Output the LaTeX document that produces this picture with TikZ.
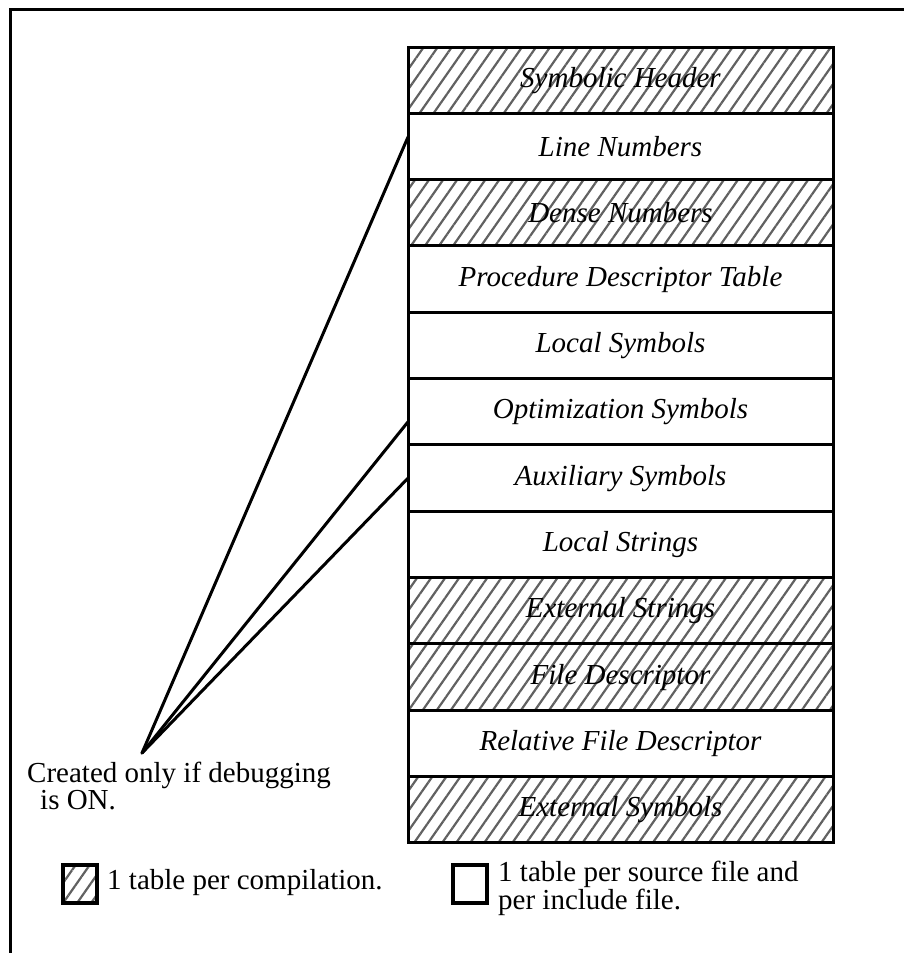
\documentclass[tikz,border=0pt]{standalone}
\usepackage{fontspec}
\setmainfont{Liberation Serif}
\usetikzlibrary{patterns.meta}
\begin{document}
\begin{tikzpicture}[x=1pt,y=-1pt,
  tablerow/.style={draw, line width=3pt, minimum width=425pt, minimum height=66.33pt,
    anchor=north west, inner sep=0pt, outer sep=0pt, font=\fontsize{29}{31}\selectfont\itshape},
  shaded/.style={pattern={Lines[angle=55,distance=11.5pt,line width=2.2pt]}, pattern color=black!62},
  keybox/.style={draw, line width=3.5pt, minimum width=34pt, minimum height=38pt, inner sep=0pt},
  label/.style={font=\fontsize{29}{27}\selectfont, inner sep=0pt},
  connector/.style={line width=3pt, line cap=round}]
\useasboundingbox (0,0) rectangle (904,953);

% page frame
\draw[line width=3pt] (10,953) -- (10,9) -- (904,9);

% note and its leader lines (base anchor sits on the last line)
\coordinate (apex) at (142,753);
\node[label, anchor=base west, align=left] (note) at (27,809)
  {Created only if debugging\\\hspace{13pt}is ON.};

% symbol table sections
\node[tablerow, shaded] (symhdr) at (408,47) {Symbolic Header};
\node[tablerow] (linenum) at (symhdr.south west) {Line Numbers};
\node[tablerow, shaded] (dense) at (linenum.south west) {Dense Numbers};
\node[tablerow] (procdesc) at (dense.south west) {Procedure Descriptor Table};
\node[tablerow] (localsym) at (procdesc.south west) {Local Symbols};
\node[tablerow] (optsym) at (localsym.south west) {Optimization Symbols};
\node[tablerow] (auxsym) at (optsym.south west) {Auxiliary Symbols};
\node[tablerow] (localstr) at (auxsym.south west) {Local Strings};
\node[tablerow, shaded] (extstr) at (localstr.south west) {External Strings};
\node[tablerow, shaded] (filedesc) at (extstr.south west) {File Descriptor};
\node[tablerow] (relfile) at (filedesc.south west) {Relative File Descriptor};
\node[tablerow, shaded] (extsym) at (relfile.south west) {External Symbols};

\draw[connector] (apex) -- ([yshift=9.5pt]linenum.west);
\draw[connector] (apex) -- ([yshift=-10pt]optsym.west);
\draw[connector] (apex) -- (auxsym.west);

% legend
\node[keybox, shaded] (keyonce) at (80,884) {};
\node[label, anchor=base west] (keyoncetxt) at (107,889) {1 table per compilation.};
\node[keybox] (keyfile) at (470,884) {};
\node[label, anchor=base west, align=left, font=\fontsize{29}{21}\selectfont] (keyfiletxt) at (498,909)
  {1 table per source file and\\per include file.};
\end{tikzpicture}
\end{document}
